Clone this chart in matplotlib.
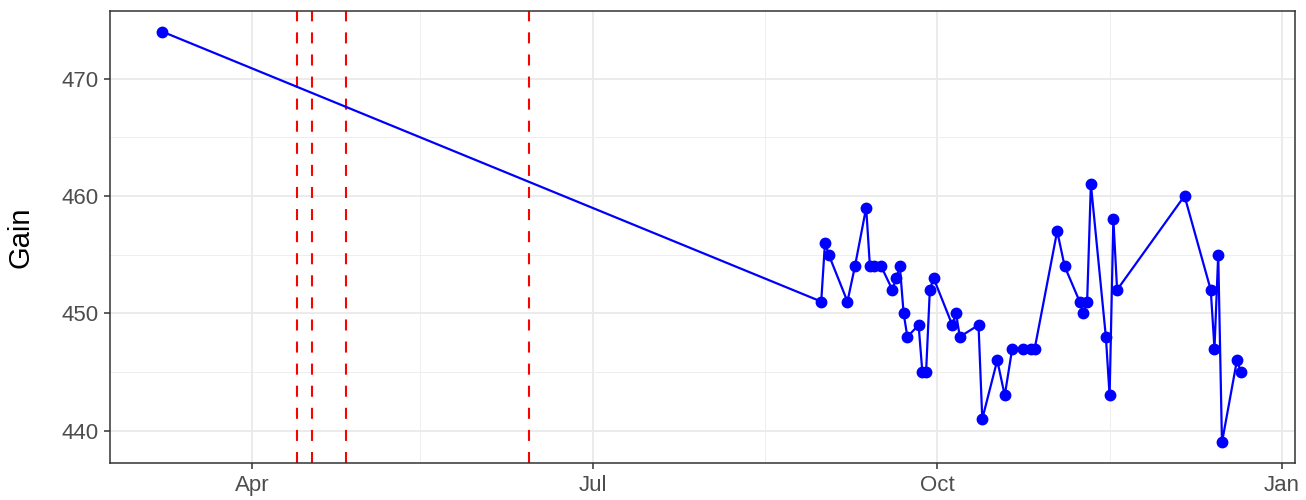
import numpy as np
import pandas as pd
import matplotlib
matplotlib.use("Agg")
import matplotlib.pyplot as plt
import matplotlib.dates as mdates

plt.rcParams['font.family'] = ['Liberation Sans', 'DejaVu Sans']

# 数据
dates = ["2023-03-08",
         "2023-08-31", "2023-09-01", "2023-09-02", "2023-09-07", "2023-09-09",
         "2023-09-12", "2023-09-13", "2023-09-14", "2023-09-16", "2023-09-19",
         "2023-09-20", "2023-09-21", "2023-09-22", "2023-09-23", "2023-09-26",
         "2023-09-27", "2023-09-28", "2023-09-29", "2023-09-30", "2023-10-05",
         "2023-10-06", "2023-10-07", "2023-10-12", "2023-10-13", "2023-10-17",
         "2023-10-19", "2023-10-21", "2023-10-24", "2023-10-26", "2023-10-27",
         "2023-11-02", "2023-11-04", "2023-11-08", "2023-11-09", "2023-11-10",
         "2023-11-11", "2023-11-15", "2023-11-16", "2023-11-17", "2023-11-18",
         "2023-12-06", "2023-12-13", "2023-12-14", "2023-12-15", "2023-12-16",
         "2023-12-20", "2023-12-21"]
gain = [474,
        451, 456, 455, 451, 454,
        459, 454, 454, 454, 452,
        453, 454, 450, 448, 449,
        445, 445, 452, 453, 449,
        450, 448, 449, 441, 446,
        443, 447, 447, 447, 447,
        457, 454, 451, 450, 451,
        461, 448, 443, 458, 452,
        460, 452, 447, 455, 439,
        446, 445]
event_dates = ["2023-04-13", "2023-04-17", "2023-04-26", "2023-06-14"]

x = pd.to_datetime(dates)
ev = pd.to_datetime(event_dates)

fig = plt.figure(figsize=(13.06, 5.0), dpi=100)
ax = fig.add_axes([110 / 1306, 37 / 500, 1185 / 1306, 452 / 500])

# 网格
for v in [465, 455, 445]:
    ax.axhline(v, color='#EBEBEB', lw=0.6, zorder=0)
for d in ["2023-05-16", "2023-08-16", "2023-11-16"]:
    ax.axvline(pd.Timestamp(d), color='#EBEBEB', lw=0.6, zorder=0)
ax.grid(True, color='#EBEBEB', lw=1.4, zorder=0)
ax.set_axisbelow(True)

for d in ev:
    ax.axvline(d, color='red', lw=1.5, linestyle=(0, (5.3, 5.3)), zorder=2)

ax.plot(x, gain, color='blue', lw=1.6, marker='o', markersize=7.5, zorder=3)

# 坐标范围（5% 扩展，按参考图刻度位置校准）
apr1 = pd.Timestamp("2023-04-01")
ax.set_xlim(apr1 - pd.Timedelta(days=37.9), apr1 + pd.Timedelta(days=278.5))
ypad = (max(gain) - min(gain)) * 0.05
ax.set_ylim(min(gain) - ypad, max(gain) + ypad)

ax.set_yticks([440, 450, 460, 470])
ax.xaxis.set_major_locator(mdates.MonthLocator(bymonth=[1, 4, 7, 10]))
ax.xaxis.set_major_formatter(mdates.DateFormatter('%b'))

for s in ax.spines.values():
    s.set_color('#333333')
    s.set_linewidth(1.1)
ax.tick_params(axis='both', direction='out', length=4.5, width=1.1, color='#333333',
               labelcolor='#4D4D4D', labelsize=16)
ax.tick_params(axis='x', pad=4)
ax.tick_params(axis='y', pad=4)
ax.set_ylabel('Gain', fontsize=21, labelpad=19)

fig.savefig('out.png', dpi=100)
